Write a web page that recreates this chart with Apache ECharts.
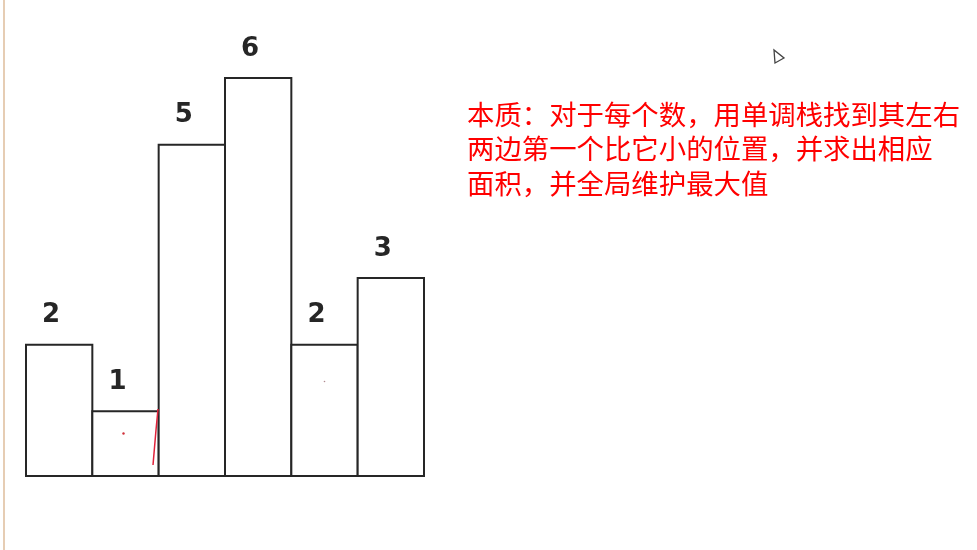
<!DOCTYPE html>
<html>
<head>
<meta charset="utf-8">
<script src="https://cdn.jsdelivr.net/npm/echarts@6/dist/echarts.min.js"></script>
<style>
html,body{margin:0;padding:0;background:#fff;}
#c{width:977px;height:550px;}
</style>
</head>
<body>
<div id="c"></div>
<script>
var categories = ['0', '1', '2', '3', '4', '5'];
var heights = [2, 1, 5, 6, 2, 3];
var noteLines = [
  '本质：对于每个数，用单调栈找到其左右',
  '两边第一个比它小的位置，并求出相应',
  '面积，并全局维护最大值'
];

var W = 977, gridLeft = 26, gridRight = 553;
var catWidth = (W - gridLeft - gridRight) / categories.length;
var borderW = 2;

var chart = echarts.init(document.getElementById('c'));
chart.setOption({
  backgroundColor: '#ffffff',
  animation: false,
  grid: { left: gridLeft, right: gridRight, top: 77, bottom: 73 },
  xAxis: {
    type: 'category',
    data: categories,
    show: false,
    boundaryGap: true
  },
  yAxis: {
    type: 'value',
    min: 0,
    max: 6,
    show: false
  },
  series: [{
    type: 'bar',
    data: heights,
    barWidth: catWidth + borderW,
    itemStyle: { color: '#ffffff', borderColor: '#262626', borderWidth: borderW },
    label: {
      show: true,
      position: 'top',
      distance: 15,
      offset: [-8, 0],
      fontFamily: 'DejaVu Sans',
      fontWeight: 'bold',
      fontSize: 26,
      color: '#262626'
    }
  }],
  graphic: [
    { type: 'rect', z: 100, shape: { x: 3, y: 0, width: 2, height: 550 }, style: { fill: '#e6cdb4' }, silent: true },
    { type: 'text', z: 100, left: 467, top: 97, style: {
        text: noteLines.join('\n'),
        fontFamily: 'Noto Sans CJK SC',
        fontSize: 27.4,
        lineHeight: 34.5,
        fill: '#ff0000'
      } },
    { type: 'polyline', z: 100, shape: { points: [[158, 409], [156, 430], [153, 465]] }, style: { stroke: '#e0223a', lineWidth: 1.5, fill: null } },
    { type: 'circle', z: 100, shape: { cx: 123.5, cy: 433.5, r: 1.2 }, style: { fill: '#d0303a' } },
    { type: 'circle', z: 100, shape: { cx: 324.5, cy: 381.5, r: 0.8 }, style: { fill: '#b08a90' } },
    { type: 'polygon', z: 100, shape: { points: [[774, 50], [775, 63], [784, 58]] }, style: { fill: '#ffffff', stroke: '#444444', lineWidth: 1.3 } }
  ]
});
</script>
</body>
</html>
